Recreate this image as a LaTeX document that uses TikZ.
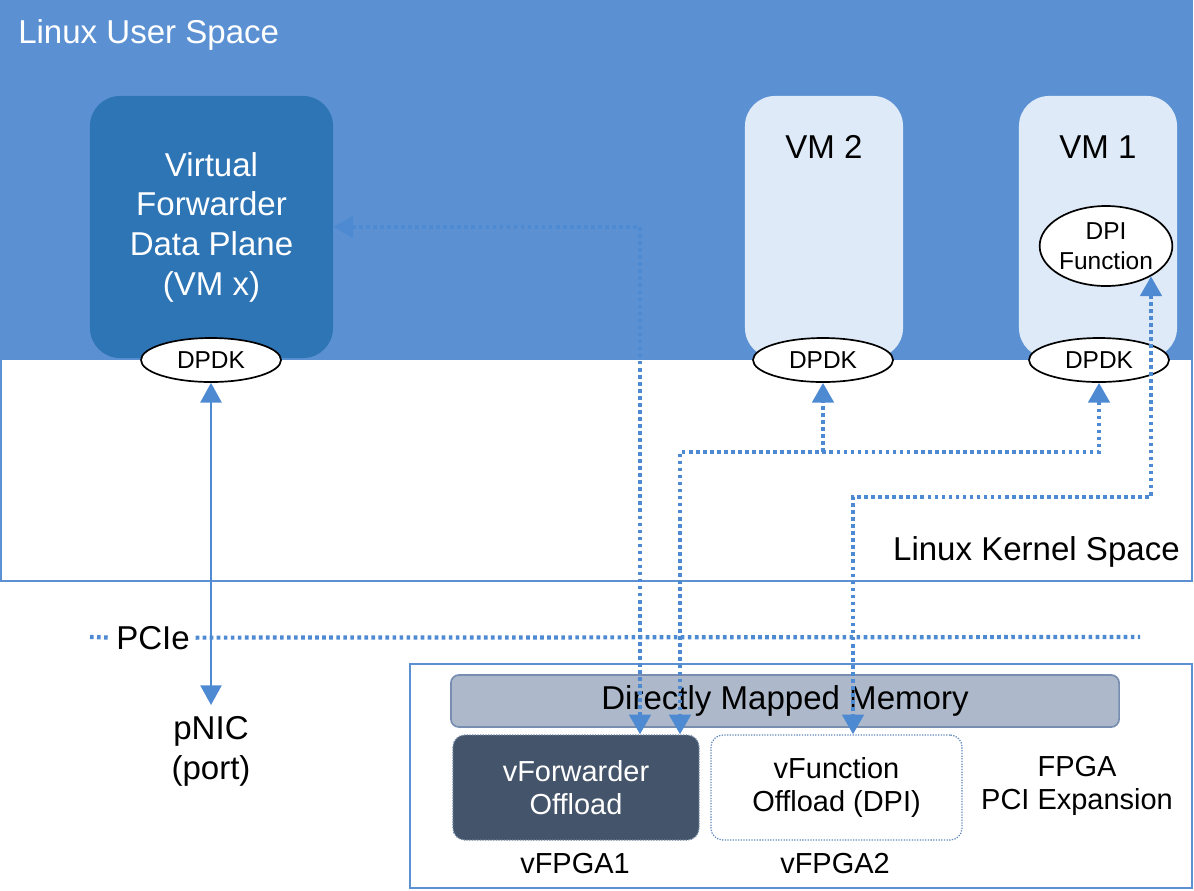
\documentclass[tikz,border=0pt]{standalone}
\usepackage{fontspec}
\setmainfont{Liberation Sans}
\usetikzlibrary{arrows.meta,positioning,shapes.geometric}
\definecolor{HwUserBlue}{RGB}{91,145,211}
\definecolor{HwFwdBlue}{RGB}{46,117,182}
\definecolor{HwVmLight}{RGB}{222,234,247}
\definecolor{HwArrow}{RGB}{78,138,210}
\definecolor{HwMemGray}{RGB}{173,185,202}
\definecolor{HwMemEdge}{RGB}{120,142,176}
\definecolor{HwSlate}{RGB}{68,84,106}
\definecolor{HwSlateEdge}{RGB}{112,132,160}
\definecolor{HwDotEdge}{RGB}{95,135,185}
\newcommand{\hwbig}{\fontsize{23.5}{28.2}\selectfont}
\newcommand{\hwmid}{\fontsize{20.6}{23.5}\selectfont}
\newcommand{\hwsmall}{\fontsize{17.4}{21}\selectfont}
\tikzset{
  hw/vm/.style={
    rounded corners=0.75cm,
    align=center,
    inner sep=0pt,
    minimum height=6.55cm
  },
  hw/dpdk/.style={
    ellipse,
    draw=black,
    line width=1.2pt,
    fill=white,
    inner sep=0pt,
    align=center,
    font=\hwsmall
  },
  hw/mem/.style={
    draw=HwMemEdge,
    line width=1.2pt,
    fill=HwMemGray,
    rounded corners=0.2cm,
    inner sep=0pt,
    font=\hwbig
  },
  hw/offload/.style={
    rounded corners=0.3cm,
    densely dotted,
    line width=0.9pt,
    align=center,
    inner sep=0pt,
    minimum height=2.625cm,
    font=\hwmid
  },
  hw/frame/.style={draw=HwUserBlue, line width=1.4pt},
  hw/label/.style={inner sep=0pt, font=\hwbig, align=center},
  hw/midlabel/.style={inner sep=0pt, font=\hwmid, align=center},
  hw/dotline/.style={draw=HwArrow, line width=3pt, dash pattern=on 2.6pt off 2.4pt},
  hw/dotlink/.style={hw/dotline, {Triangle[length=14pt,width=15pt]}-{Triangle[length=14pt,width=15pt]}},
  hw/dotto/.style={hw/dotline, -{Triangle[length=14pt,width=15pt]}},
  hw/solidlink/.style={draw=HwArrow, line width=1.5pt, {Triangle[length=14pt,width=15pt]}-{Triangle[length=14pt,width=15pt]}}
}
\begin{document}
\begin{tikzpicture}[x=0.025cm,y=-0.025cm]
  \useasboundingbox (0,0) rectangle (1194,890);
  \fill[HwUserBlue] (1,1) rectangle (1192,360);
  \draw[hw/frame] (1,1) rectangle (1192,581);
  \node[hw/label, text=white, anchor=base west] (user) at (18,43) {Linux User Space};
  \node[hw/label, anchor=base east] (kernel) at (1180,560) {Linux Kernel Space};

  \node[hw/vm, fill=HwFwdBlue, text=white, minimum width=6.075cm, font=\hwbig] (fwd) at (211.5,227) {Virtual\\Forwarder\\Data Plane\\(VM x)};
  \node[hw/vm, fill=HwVmLight, minimum width=3.95cm] (vm2) at (824,227) {};
  \node[hw/vm, fill=HwVmLight, minimum width=3.95cm] (vm1) at (1098,227) {};
  \node[hw/label, anchor=base] (vm2name) at (824,158) {VM 2};
  \node[hw/label, anchor=base] (vm1name) at (1098,158) {VM 1};

  \node[hw/dpdk, minimum width=3.5cm, minimum height=1.1cm] (dpdkf) at (211,360) {DPDK};
  \node[hw/dpdk, minimum width=3.5cm, minimum height=1.1cm] (dpdk2) at (823,360) {DPDK};
  \node[hw/dpdk, minimum width=3.5cm, minimum height=1.1cm] (dpdk1) at (1099,360) {DPDK};
  \node[hw/dpdk, minimum width=3.175cm, minimum height=2cm] (dpi) at (1106,246) {DPI\\Function};

  \node[hw/label, anchor=north] (pnic) at (211,716) {pNIC\\(port)};
  \coordinate (pcieL) at (90,637);
  \coordinate (pcieR) at (1140,637);
  \node[hw/label, fill=white, inner xsep=4pt, anchor=base] (pcie) at (153,649) {PCIe};
  \draw[hw/dotline] (pcieL) -- (pcie.west);
  \draw[hw/dotline] (pcie.east) -- (pcieR);

  \draw[hw/frame] (410,664) rectangle (1192,888);
  \node[hw/mem, minimum width=16.7cm, minimum height=1.3cm] (mem) at (785,701) {Directly Mapped Memory};
  \node[hw/offload, fill=HwSlate, draw=HwSlateEdge, text=white, minimum width=6.15cm] (vfwd) at (576,787.5) {vForwarder\\Offload};
  \node[hw/offload, fill=white, draw=HwDotEdge, minimum width=6.275cm] (vfunc) at (836.5,787.5) {vFunction\\Offload (DPI)};
  \node[hw/midlabel] (fpganame) at (1077,786) {FPGA\\PCI Expansion};
  \node[hw/midlabel, anchor=base] (vfpga1) at (575,873) {vFPGA1};
  \node[hw/midlabel, anchor=base] (vfpga2) at (835,873) {vFPGA2};

  \coordinate (fwdbend) at (640,228);
  \coordinate (vmbend) at (680,452);
  \coordinate (dpibend) at (853,497);
  \draw[hw/dotlink] (fwd.east) -| (vfwd.north -| fwdbend);
  \draw[hw/dotlink] (dpdk1.south) |- (vmbend) -- (vfwd.north -| vmbend);
  \draw[hw/dotto] (dpdk2.south |- vmbend) -- (dpdk2.south);
  \draw[hw/dotlink] (dpi.-34) |- (dpibend) -- (vfunc.north -| dpibend);
  \draw[hw/solidlink, shorten >=0.275cm] (dpdkf.south) -- (pnic.north);
\end{tikzpicture}
\end{document}
